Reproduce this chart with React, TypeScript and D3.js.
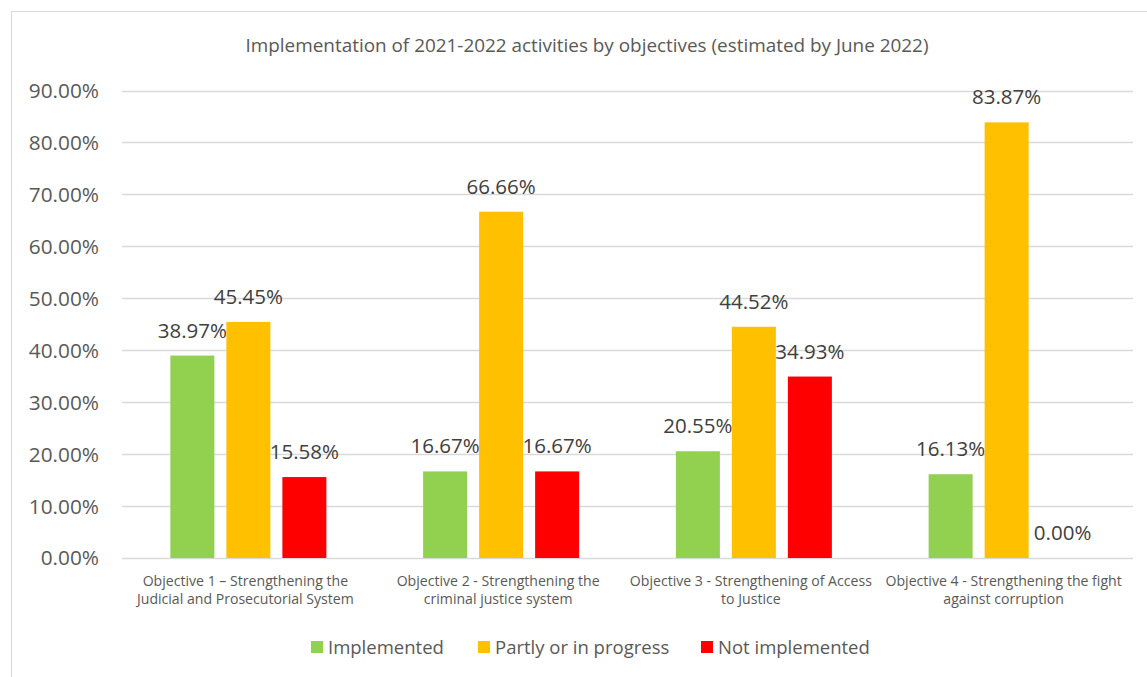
import React, { useEffect } from 'react';
import * as d3 from 'd3';

const title = 'Implementation of 2021-2022 activities by objectives (estimated by June 2022)';

const categories = [
  ['Objective 1 – Strengthening the', 'Judicial and Prosecutorial System'],
  ['Objective 2 - Strengthening the', 'criminal justice system'],
  ['Objective 3 - Strengthening of Access', 'to Justice'],
  ['Objective 4 - Strengthening the fight', 'against corruption'],
];

const seriesNames = ['Implemented', 'Partly or in progress', 'Not implemented'];
const seriesColors = ['#92D050', '#FFC000', '#FF0000'];

const implemented = [38.97, 16.67, 20.55, 16.13];
const partly = [45.45, 66.66, 44.52, 83.87];
const notImplemented = [15.58, 16.67, 34.93, 0.0];

const yTicks = [0, 10, 20, 30, 40, 50, 60, 70, 80, 90];

const W = 1147;
const H = 677;
const plot = { left: 122, right: 1133, top: 90.5, bottom: 558 };
const font = '"Open Sans", sans-serif';
const textColor = '#595959';

const App: React.FC = () => {
  useEffect(() => {
    document.body.style.margin = '0';
  }, []);

  const values = [implemented, partly, notImplemented];
  const keys = categories.map((c) => c.join(' '));

  const x = d3.scaleBand().domain(keys).range([plot.left, plot.right]);
  const inner = d3
    .scaleBand()
    .domain(seriesNames)
    .range([(x.bandwidth() - 168) / 2, (x.bandwidth() + 168) / 2])
    .paddingInner(12 / 56)
    .paddingOuter(6 / 56);
  const y = d3.scaleLinear().domain([0, 90]).range([plot.bottom, plot.top]);

  // legend layout
  const legendItems = [
    { x: 311, name: seriesNames[0] },
    { x: 478, name: seriesNames[1] },
    { x: 701, name: seriesNames[2] },
  ];

  return (
    <svg width={W} height={H} style={{ display: 'block', background: '#fff' }}>
      <rect x={11.5} y={11.5} width={1160} height={700} fill="#fff" stroke="#D9D9D9" />
      <text x={587} y={52} textAnchor="middle" fontFamily={font} fontSize={18.9} fill={textColor}>
        {title}
      </text>

      {yTicks.map((t) => (
        <g key={t}>
          <line
            x1={plot.left}
            x2={plot.right}
            y1={Math.round(y(t)) + 0.5}
            y2={Math.round(y(t)) + 0.5}
            stroke="#D9D9D9"
            strokeWidth={1.5}
          />
          <text
            x={99}
            y={y(t)}
            dy="0.36em"
            textAnchor="end"
            fontFamily={font}
            fontSize={20.8}
            fill={textColor}
          >
            {t.toFixed(2)}%
          </text>
        </g>
      ))}

      {keys.map((k, i) => (
        <g key={k} transform={`translate(${x(k)},0)`}>
          {seriesNames.map((s, j) => {
            const v = values[j][i];
            const bx = inner(s) as number;
            return (
              <g key={s}>
                {v > 0 && (
                  <rect
                    x={bx}
                    y={y(v)}
                    width={inner.bandwidth()}
                    height={y(0) - y(v)}
                    fill={seriesColors[j]}
                  />
                )}
                <text
                  x={bx + inner.bandwidth() / 2}
                  y={y(v) - 18}
                  textAnchor="middle"
                  fontFamily={font}
                  fontSize={20.5}
                  fill="#404040"
                >
                  {v.toFixed(2)}%
                </text>
              </g>
            );
          })}
          {categories[i].map((line, li) => (
            <text
              key={li}
              x={x.bandwidth() / 2 - 3}
              y={581 + li * 18.5}
              dy="0.35em"
              textAnchor="middle"
              fontFamily={font}
              fontSize={14.1}
              fill={textColor}
            >
              {line}
            </text>
          ))}
        </g>
      ))}

      {legendItems.map((item, j) => (
        <g key={item.name}>
          <rect x={item.x} y={641} width={12} height={12} fill={seriesColors[j]} />
          <text
            x={item.x + 17}
            y={647}
            dy="0.36em"
            fontFamily={font}
            fontSize={18.5}
            fill={textColor}
          >
            {item.name}
          </text>
        </g>
      ))}
    </svg>
  );
};

export default App;
